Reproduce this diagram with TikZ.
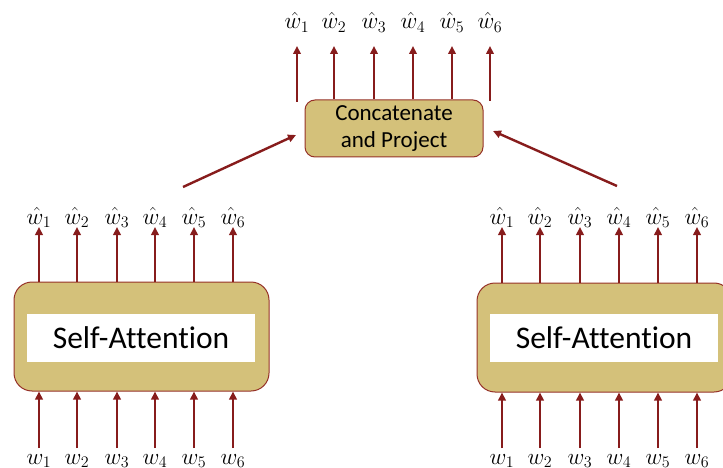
\documentclass[tikz,border=0pt]{standalone}
\usepackage{graphicx}
\usepackage{fontspec}
\newfontfamily\boxfont[Ligatures=NoCommon]{Carlito}
\usetikzlibrary{arrows.meta}
\definecolor{arrowred}{RGB}{135,28,28}
\definecolor{boxfill}{RGB}{212,193,122}
\definecolor{boxline}{RGB}{150,50,40}
\newcommand{\tokmath}[1]{\scalebox{1.34}{$#1$}}
\tikzset{
  flow/.style={draw=arrowred, line width=2.4pt, -{Triangle[length=8pt,width=7.5pt]}},
  sabox/.style={draw=boxline, line width=1pt, fill=boxfill, rounded corners=18pt,
                minimum width=255pt, minimum height=109pt, inner sep=0pt},
  salabel/.style={fill=white, minimum width=228pt, minimum height=48pt, inner sep=0pt,
                  font=\boxfont\fontsize{31.5}{36}\selectfont},
  cpbox/.style={draw=boxline, line width=1pt, fill=boxfill, rounded corners=10pt,
                minimum width=178pt, minimum height=57pt, inner sep=0pt, align=center,
                font=\boxfont\fontsize{23}{27}\selectfont},
  tok/.style={anchor=base, inner sep=0pt, font=\fontsize{17.28}{21}\selectfont}
}
\begin{document}
\begin{tikzpicture}[x=1pt,y=-1pt]
\useasboundingbox (0,0) rectangle (723,468);
\clip (0,0) rectangle (723,468);

% two self-attention heads
\node[sabox] (L) at (141.5,336.5) {};
\node[salabel] (Lt) at (141,338) {Self-Attention};
\node[sabox] (R) at (604.5,337.5) {};
\node[salabel] (Rt) at (604,338) {Self-Attention};

% concatenation box
\node[cpbox] (C) at (394,128.5) {Concatenate\\and Project};

% left head: inputs and outputs
\foreach \i/\x in {1/39,2/77,3/117,4/155,5/194,6/233} {
  \node[tok] (Lin\i) at (\x,464) {\tokmath{w_{\i}}};
  \node[tok] (Lout\i) at (\x,224) {\tokmath{\hat{w}_{\i}}};
  \coordinate (Lb\i) at (\x,448);
  \draw[flow] (Lb\i) -- (Lb\i |- L.south);
  \draw[flow] (Lb\i |- L.north) -- (\x,227);
}

% right head: inputs and outputs
\foreach \i/\x in {1/502,2/540,3/580,4/619,5/658,6/697} {
  \node[tok] (Rin\i) at (\x,464) {\tokmath{w_{\i}}};
  \node[tok] (Rout\i) at (\x,224) {\tokmath{\hat{w}_{\i}}};
  \coordinate (Rb\i) at (\x,448);
  \draw[flow] (Rb\i) -- (Rb\i |- R.south);
  \draw[flow] (Rb\i |- R.north) -- (\x,227);
}

% projected outputs
\foreach \i/\x in {1/297,2/334,3/374,4/413,5/452,6/490} {
  \node[tok] (Cout\i) at (\x,29) {\tokmath{\hat{w}_{\i}}};
  \coordinate (Ct\i) at (\x,46);
}
\coordinate (Cb1) at (297,102);
\coordinate (Cb6) at (490,101);
\draw[flow] (Cb1) -- (Ct1);
\foreach \i in {2,3,4,5} \draw[flow] (Ct\i |- C.north) -- (Ct\i);
\draw[flow] (Cb6) -- (Ct6);

% heads feeding the concatenation
\coordinate (Lup) at (183,187);
\coordinate (Ltip) at (296,135);
\coordinate (Rup) at (617,186);
\coordinate (Rtip) at (493,131);
\draw[flow] (Lup) -- (Ltip);
\draw[flow] (Rup) -- (Rtip);
\end{tikzpicture}
\end{document}
